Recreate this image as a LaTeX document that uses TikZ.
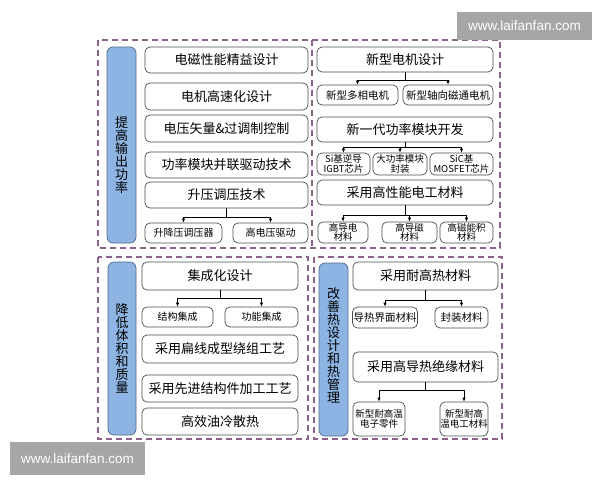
\documentclass[tikz,border=0pt]{standalone}
\usepackage{fontspec}
\setmainfont{Noto Sans CJK SC}
\newfontfamily\wmfont{Liberation Sans}
\usetikzlibrary{arrows.meta,positioning,calc}
\definecolor{dashpurple}{RGB}{140,98,140}
\definecolor{barblue}{RGB}{141,180,226}
\definecolor{barline}{RGB}{80,104,140}
\definecolor{wmgray}{RGB}{166,166,166}
\tikzset{
block/.style = {draw=black!70, fill=white, rectangle, rounded corners=5pt, line width=0.7pt, inner sep=1pt, font=\fontsize{13}{14}\selectfont},
sub/.style = {block, font=\fontsize{10.5}{11.5}\selectfont, align=center},
small/.style = {block, font=\fontsize{10}{10.5}\selectfont, align=center},
bar/.style = {draw=barline, fill=barblue, rectangle, rounded corners=6pt, line width=0.7pt},
vtext/.style = {align=center, font=\fontsize{13}{13}\selectfont},
panel/.style = {draw=dashpurple, line width=1.1pt, dash pattern=on 6pt off 4pt},
wmark/.style = {fill=wmgray, text=white, inner sep=0pt, font=\wmfont\fontsize{13.5}{14}\selectfont}
}
\begin{document}
\begin{tikzpicture}[auto, x=1pt, y=-1pt, >={Latex[length=4pt,width=3.5pt]}, line width=0.7pt]
    \useasboundingbox (0,0) rectangle (600,480);
    % dashed panels
    \draw [panel] (98,40) rectangle (500,248);
    \draw [panel] (312,40) -- (312,248);
    \draw [panel] (98,257) rectangle (308,439);
    \draw [panel] (314,257) rectangle (502,439);

    % panel 1: output power
    \node [bar, minimum width=29, minimum height=196] (bar1) at (121.5,145) {};
    \node [vtext] (lab1) at (121.5,155) {提\\高\\输\\出\\功\\率};
    \node [block, minimum width=163, minimum height=26] (m1) at (226.5,60) {电磁性能精益设计};
    \node [block, minimum width=163, minimum height=27] (m2) at (226.5,96.5) {电机高速化设计};
    \node [block, minimum width=163, minimum height=27] (m3) at (226.5,128.5) {电压矢量\&过调制控制};
    \node [block, minimum width=163, minimum height=26] (m4) at (226.5,165) {功率模块并联驱动技术};
    \node [block, minimum width=163, minimum height=26] (m5) at (226.5,195) {升压调压技术};
    \node [small, minimum width=77, minimum height=20] (m5a) at (183.5,233) {升降压调压器};
    \node [small, minimum width=75, minimum height=20] (m5b) at (270.5,233) {高电压驱动};
    \draw (m5.south) -- ++(0,9) coordinate (f5);
    \draw [->] (f5) -| (m5a.north);
    \draw [->] (f5) -| (m5b.north);

    % new motor / modules / materials
    \node [block, minimum width=176, minimum height=25] (r1) at (405,59.5) {新型电机设计};
    \node [sub, minimum width=81, minimum height=20] (r1a) at (357.5,95) {新型多相电机};
    \node [sub, minimum width=90, minimum height=20] (r1b) at (448,95) {新型轴向磁通电机};
    \draw (r1.south) -- ++(0,8) coordinate (f1);
    \draw [->] (f1) -| (r1a.north);
    \draw [->] (f1) -| (r1b.north);
    \node [block, minimum width=176, minimum height=25] (r2) at (405,129.5) {新一代功率模块开发};
    \node [small, minimum width=53, minimum height=22, inner sep=0pt, font=\fontsize{9.5}{9.5}\selectfont] (r2a) at (343.5,164) {Si基逆导\\IGBT芯片};
    \node [small, minimum width=54, minimum height=22, inner sep=0pt, font=\fontsize{9.5}{9.5}\selectfont] (r2b) at (400,164) {大功率模块\\封装};
    \node [small, minimum width=63, minimum height=22, inner sep=0pt, font=\fontsize{9.5}{9.5}\selectfont] (r2c) at (461.5,164) {SiC基\\MOSFET芯片};
    \draw (r2.south) -- ++(0,5) coordinate (f2);
    \draw [->] (f2) -| (r2a.north);
    \draw [->] (f2) -| (r2b.north);
    \draw [->] (f2) -| (r2c.north);
    \node [block, minimum width=176, minimum height=25] (r3) at (405,192.5) {采用高性能电工材料};
    \node [small, minimum width=50, minimum height=21, inner sep=0pt, font=\fontsize{9.5}{9.5}\selectfont] (r3a) at (343,232.5) {高导电\\材料};
    \node [small, minimum width=55, minimum height=21, inner sep=0pt, font=\fontsize{9.5}{9.5}\selectfont] (r3b) at (409.5,232.5) {高导磁\\材料};
    \node [small, minimum width=53, minimum height=21, inner sep=0pt, font=\fontsize{9.5}{9.5}\selectfont] (r3c) at (466.5,232.5) {高磁能积\\材料};
    \draw (r3.south) -- ++(0,10) coordinate (f3);
    \draw [->] (f3) -| (r3a.north);
    \draw [->] (f3) -| (r3b.north);
    \draw [->] (f3) -| (r3c.north);

    % panel 2: volume and mass
    \node [bar, minimum width=28, minimum height=173] (bar2) at (122,348.5) {};
    \node [vtext] (lab2) at (122,348.5) {降\\低\\体\\积\\和\\质\\量};
    \node [block, minimum width=156, minimum height=28] (n1) at (220,276) {集成化设计};
    \node [small, minimum width=71, minimum height=20] (n1a) at (177.5,317) {结构集成};
    \node [small, minimum width=73, minimum height=20] (n1b) at (261.5,317) {功能集成};
    \draw (n1.south) -- ++(0,8) coordinate (g1);
    \draw [->] (g1) -| (n1a.north);
    \draw [->] (g1) -| (n1b.north);
    \node [block, minimum width=156, minimum height=28] (n2) at (220,349) {采用扁线成型绕组工艺};
    \node [block, minimum width=156, minimum height=27] (n3) at (220,388.5) {采用先进结构件加工工艺};
    \node [block, minimum width=156, minimum height=27] (n4) at (220,421.5) {高效油冷散热};

    % panel 3: thermal design
    \node [bar, minimum width=29, minimum height=173] (bar3) at (333.5,349.5) {};
    \node [vtext] (lab3) at (333.5,345) {改\\善\\热\\设\\计\\和\\热\\管\\理};
    \node [block, minimum width=145, minimum height=28] (t1) at (425.5,276) {采用耐高热材料};
    \node [sub, minimum width=64, minimum height=21] (t1a) at (385,317.5) {导热界面材料};
    \node [sub, minimum width=53, minimum height=21] (t1b) at (461.5,317.5) {封装材料};
    \draw (t1.south) -- ++(0,10) coordinate (h1);
    \draw [->] (h1) -| (t1a.north);
    \draw [->] (h1) -| (t1b.north);
    \node [block, minimum width=145, minimum height=30] (t2) at (425.5,367) {采用高导热绝缘材料};
    \node [small, minimum width=52, minimum height=34, inner sep=0pt, font=\fontsize{9.5}{10.5}\selectfont] (t2a) at (379,419) {新型耐高温\\电子零件};
    \node [small, minimum width=48, minimum height=34, inner sep=0pt, font=\fontsize{9.5}{10.5}\selectfont] (t2b) at (464,419) {新型耐高\\温电工材料};
    \draw (t2.south) -- ++(0,8) coordinate (h2);
    \draw [->] (h2) -| (t2a.north);
    \draw [->] (h2) -| (t2b.north);

    % site marks
    \node [wmark, minimum width=135, minimum height=28] (wm1) at (524.5,26) {www.laifanfan.com};
    \node [wmark, minimum width=135, minimum height=33] (wm2) at (77.5,458.5) {www.laifanfan.com};
\end{tikzpicture}
\end{document}
